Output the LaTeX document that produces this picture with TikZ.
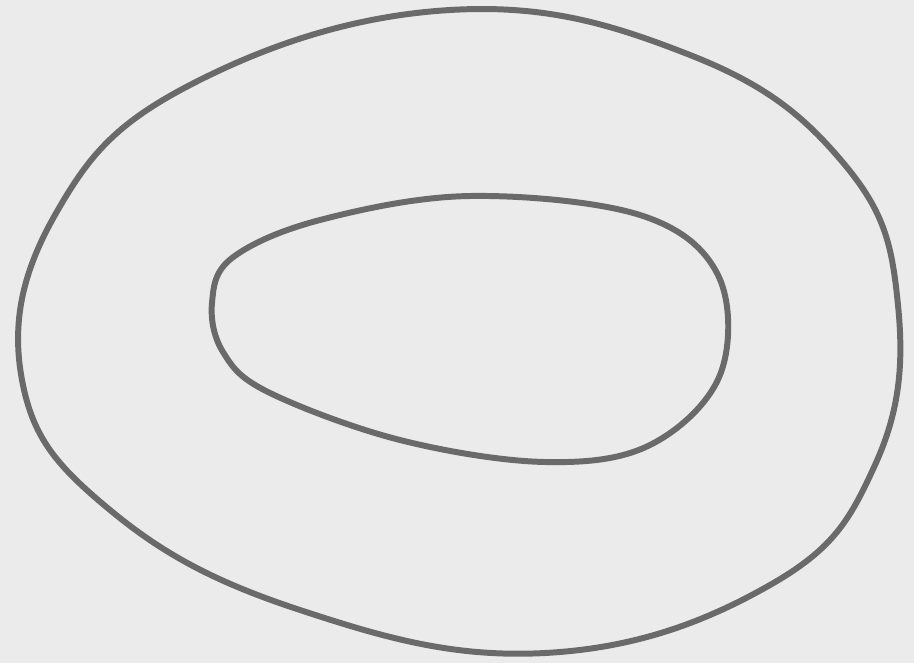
\documentclass[tikz,border=0pt]{standalone}
\usepackage{tikz}
\definecolor{LoopGray}{HTML}{6A6A6A}
\definecolor{PaperGray}{HTML}{EBEBEB}
\tikzset{
  loopline/.style={draw=LoopGray, line width=3.4pt, line join=round}
}
\begin{document}
\begin{tikzpicture}[x=0.02cm, y=-0.02cm]
  % canvas with the reference's margins
  \fill[PaperGray] (0,0) rectangle (914,663);
  \useasboundingbox (0,0) rectangle (914,663);
  % outer loop
  \draw[loopline] plot[smooth cycle, tension=0.7] coordinates {
    (22,380) (55,215) (190,85) (450,10) (690,55) (845,165)
    (898,305) (875,465) (770,585) (545,653) (300,610) (110,510)};
  % inner loop
  \draw[loopline] plot[smooth cycle, tension=0.6] coordinates {
    (212,303) (232,258) (320,220) (470,196) (640,215) (718,275)
    (720,375) (650,445) (545,462) (400,440) (268,392) (223,352)};
\end{tikzpicture}
\end{document}
